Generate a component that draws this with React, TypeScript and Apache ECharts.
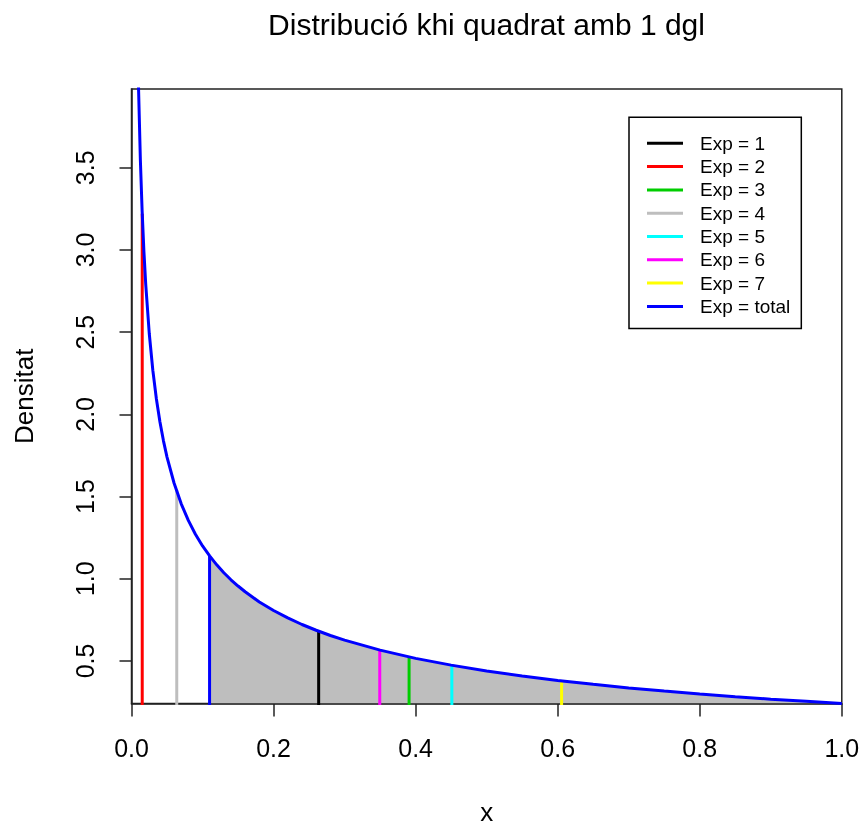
import React, { useEffect, useRef } from "react";
import * as echarts from "echarts";

// Chi-square (1 df) density
const curveX = [0.0098, 0.01, 0.0125, 0.015, 0.0175, 0.02, 0.025, 0.03, 0.035, 0.04, 0.045, 0.05, 0.06, 0.07, 0.08, 0.09, 0.1, 0.11, 0.12, 0.13, 0.14, 0.15, 0.16, 0.18, 0.2, 0.22, 0.24, 0.26, 0.28, 0.3, 0.35, 0.4, 0.45, 0.5, 0.55, 0.6, 0.65, 0.7, 0.75, 0.8, 0.85, 0.9, 0.95, 1.0];
const curveY = [4.01, 3.97, 3.546, 3.233, 2.989, 2.793, 2.492, 2.269, 2.095, 1.955, 1.839, 1.74, 1.581, 1.456, 1.355, 1.271, 1.2, 1.139, 1.085, 1.037, 0.994, 0.956, 0.921, 0.859, 0.807, 0.762, 0.722, 0.687, 0.655, 0.627, 0.566, 0.516, 0.475, 0.439, 0.409, 0.382, 0.358, 0.336, 0.317, 0.299, 0.283, 0.268, 0.255, 0.242];

// Vertical marker lines
const expNames = ["Exp = 1", "Exp = 2", "Exp = 3", "Exp = 4", "Exp = 5", "Exp = 6", "Exp = 7", "Exp = total"];
const expColors = ["#000000", "#FF0000", "#00CD00", "#BEBEBE", "#00FFFF", "#FF00FF", "#FFFF00", "#0000FF"];
const expX = [0.2635, 0.0151, 0.3908, 0.0637, 0.451, 0.3495, 0.6055, 0.1099];
const expTop = [0.68, 3.22, 0.525, 1.54, 0.474, 0.567, 0.379, 1.14];

const fillStart = 0.1099;
const fillStartY = 1.14;

const yTicks = [0.5, 1.0, 1.5, 2.0, 2.5, 3.0, 3.5];
const yMin = 0.2415;
const yMax = 3.979;

const FONT = "'Liberation Sans', Arial, sans-serif";

export default function App() {
  const ref = useRef<HTMLDivElement>(null);
  useEffect(() => {
    if (!ref.current) return;
    const chart = echarts.init(ref.current, null, { renderer: "svg" });
    const curveData = curveX.map((x, i) => [x, curveY[i]]);
    const fillData = [[fillStart, fillStartY], ...curveData.filter((p) => p[0] > fillStart)];
    const vSeries = expNames.map((name, i) => ({
      name,
      type: "line",
      data: [[expX[i], yMin - 0.05], [expX[i], expTop[i]]],
      showSymbol: false,
      symbol: "none",
      color: expColors[i],
      lineStyle: { color: expColors[i], width: 3 },
      z: 3,
      silent: true,
    }));
    chart.setOption({
      animation: false,
      textStyle: { fontFamily: FONT },
      graphic: [
        {
          type: "text",
          x: 486.5,
          y: 9,
          style: {
            text: "Distribució khi quadrat amb 1 dgl",
            fontSize: 30,
            fontFamily: FONT,
            fill: "#000",
            textAlign: "center",
            textVerticalAlign: "top",
          },
        },
      ],
      grid: {
        left: 131.5,
        right: 20.2,
        top: 89,
        bottom: 124.5,
        outerBoundsMode: "none",
        containLabel: false,
        show: true,
        borderColor: "#222",
        borderWidth: 1.5,
        backgroundColor: "transparent",
      },
      legend: {
        data: expNames,
        orient: "vertical",
        left: 629,
        top: 117.3,
        padding: [16, 11, 12, 18],
        itemGap: 3.3,
        itemWidth: 36,
        itemHeight: 3,
        icon: "rect",
        selectedMode: false,
        borderColor: "#000",
        borderWidth: 1.5,
        backgroundColor: "#fff",
        textStyle: { fontSize: 19, lineHeight: 20, color: "#000", fontFamily: FONT, padding: [0, 0, 0, 12] },
      },
      xAxis: {
        type: "value",
        min: 0,
        max: 1,
        interval: 0.2,
        name: "x",
        nameLocation: "middle",
        nameGap: 97,
        nameTextStyle: { fontSize: 26, lineHeight: 22, color: "#000", fontFamily: FONT },
        axisLine: { show: true, onZero: false, lineStyle: { color: "#222", width: 1.5 } },
        axisTick: { show: true, length: 13, lineStyle: { color: "#222", width: 1.5 } },
        axisLabel: { fontSize: 25, color: "#000", margin: 32, formatter: (v: number) => v.toFixed(1), showMinLabel: true, showMaxLabel: true },
        splitLine: { show: false },
      },
      yAxis: {
        type: "value",
        min: yMin,
        max: yMax,
        name: "Densitat",
        nameLocation: "middle",
        nameGap: 95,
        nameRotate: 90,
        nameTextStyle: { fontSize: 26, color: "#000", fontFamily: FONT },
        axisLine: { show: true, onZero: false, lineStyle: { color: "#222", width: 1.5 } },
        axisTick: { show: true, length: 12, customValues: yTicks, lineStyle: { color: "#222", width: 1.5 } },
        axisLabel: { fontSize: 25, color: "#000", margin: 34, rotate: 90, customValues: yTicks, formatter: (v: number) => v.toFixed(1) },
        splitLine: { show: false },
      },
      series: [
        {
          name: "fill",
          type: "line",
          data: fillData,
          showSymbol: false,
          symbol: "none",
          lineStyle: { width: 0 },
          areaStyle: { color: "#BEBEBE", opacity: 1, origin: "start" },
          z: 1,
          silent: true,
        },
        ...vSeries,
        {
          name: "curve",
          type: "line",
          data: curveData,
          showSymbol: false,
          symbol: "none",
          color: "#0000FF",
          lineStyle: { color: "#0000FF", width: 3 },
          z: 4,
          silent: true,
        },
      ],
    });
    return () => chart.dispose();
  }, []);
  return <div ref={ref} style={{ position: "fixed", left: 0, top: 0, width: 862, height: 828 }} />;
}
